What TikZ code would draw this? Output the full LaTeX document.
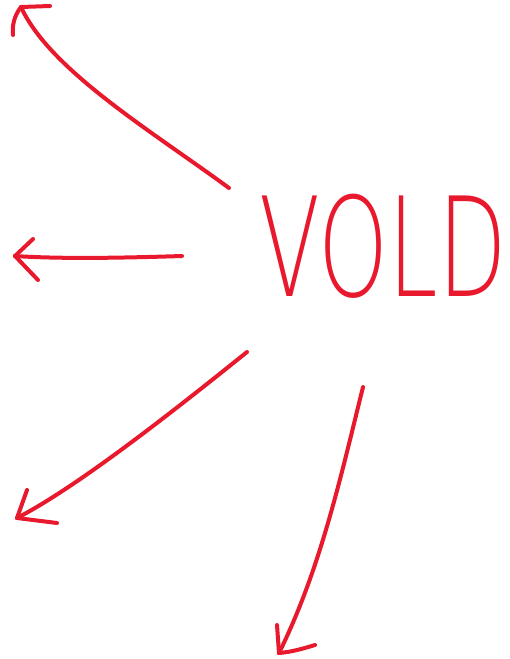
\documentclass[tikz,border=0pt]{standalone}
\usepackage{fontspec}
\newfontfamily\thinsans{DejaVu Sans ExtraLight}
\definecolor{ink}{HTML}{E8192C}
\begin{document}
\begin{tikzpicture}[x=1pt,y=-1pt,
  pen/.style={draw=ink,line width=4pt,line cap=round,line join=round}]
\useasboundingbox (0,0) rectangle (509,659);
% word
\node[text=ink,inner sep=0pt,xscale=0.645,font=\thinsans\fontsize{138}{138}\selectfont] (word) at (383,246) {VOLD};
% arrow 1: up-left
\coordinate (s1) at (229,188);
\coordinate (t1) at (21,7);
\draw[pen] (s1) .. controls (150,130) and (50,70) .. (t1);
\draw[pen] (t1) -- (50,6);
\draw[pen] (t1) .. controls (14,16) and (12,26) .. (13,35);
% arrow 2: left
\coordinate (s2) at (182,256);
\coordinate (t2) at (15,256);
\draw[pen] (s2) .. controls (120,258) and (60,259) .. (t2);
\draw[pen] (t2) -- (33,239);
\draw[pen] (t2) -- (38,280);
% arrow 3: down-left
\coordinate (s3) at (247,352);
\coordinate (t3) at (17,518);
\draw[pen] (s3) .. controls (165,418) and (75,488) .. (t3);
\draw[pen] (t3) -- (27,490);
\draw[pen] (t3) -- (57,523);
% arrow 4: down
\coordinate (s4) at (363,387);
\coordinate (t4) at (279,653);
\draw[pen] (s4) .. controls (340,480) and (320,570) .. (t4);
\draw[pen] (t4) -- (277,625);
\draw[pen] (t4) .. controls (292,652) and (305,648) .. (315,645);
\end{tikzpicture}
\end{document}
